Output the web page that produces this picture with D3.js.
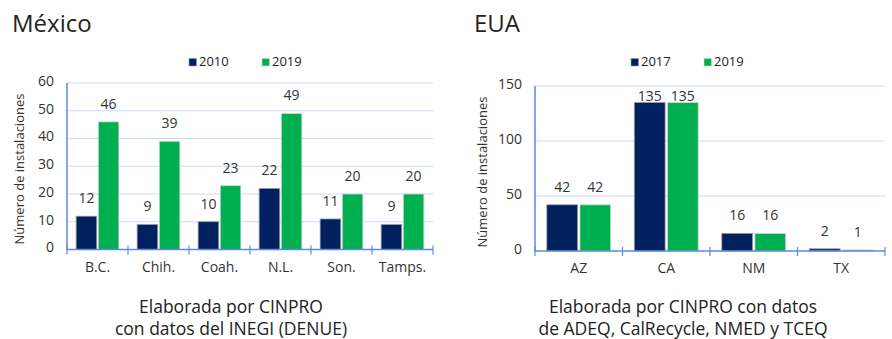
<!DOCTYPE html>
<html>
<head>
<meta charset="utf-8">
<script src="https://cdn.jsdelivr.net/npm/d3@7"></script>
<style>
  html, body { margin: 0; padding: 0; background: #fff; }
  svg { display: block; font-family: "Open Sans", "Noto Sans", sans-serif; }
</style>
</head>
<body>
<svg id="chart" width="892" height="339"></svg>
<script>
// Mexican states: recycling facilities
const mxStates = ["B.C.", "Chih.", "Coah.", "N.L.", "Son.", "Tamps."];
const mxSeries = ["2010", "2019"];
const mx2010 = [12, 9, 10, 22, 11, 9];
const mx2019 = [46, 39, 23, 49, 20, 20];
const mxYTicks = [0, 10, 20, 30, 40, 50, 60];

// US states: recycling facilities
const usStates = ["AZ", "CA", "NM", "TX"];
const usSeries = ["2017", "2019"];
const us2017 = [42, 135, 16, 2];
const us2019 = [42, 135, 16, 1];
const usYTicks = [0, 50, 100, 150];

const seriesColors = ["#002060", "#00b050"];
const seriesStroke = ["#9a9a9a", "#d6d6d6"];

const svg = d3.select("#chart");

function drawPanel(opt) {
  const g = svg.append("g");
  const x0 = d3.scaleBand().domain(opt.categories).range([opt.left, opt.right]).padding(0);
  const bw = x0.bandwidth();
  const x1 = d3.scaleBand().domain([0, 1])
    .range([bw * opt.outer, bw * (1 - opt.outer)]).paddingInner(0.07);
  const y = d3.scaleLinear().domain([0, opt.yMax]).range([opt.bottom, opt.top]);

  // title
  g.append("text").attr("x", opt.titleX).attr("y", 32)
    .attr("font-size", 24).attr("fill", "#222").text(opt.title);

  // gridlines
  g.selectAll("line.grid").data(opt.yTicks.filter(d => d > 0)).join("line")
    .attr("x1", opt.left).attr("x2", opt.right)
    .attr("y1", d => y(d)).attr("y2", d => y(d))
    .attr("stroke", "#c9dcf2").attr("stroke-width", 1.2);

  // y tick labels
  g.selectAll("text.ytick").data(opt.yTicks).join("text")
    .attr("x", opt.left - 13).attr("y", d => y(d) - 2)
    .attr("dy", "0.35em").attr("text-anchor", "end")
    .attr("font-size", 14).attr("fill", "#333").text(d => d);

  // y axis title
  g.append("text")
    .attr("transform", `translate(${opt.yTitleX},${opt.yTitleY}) rotate(-90)`)
    .attr("text-anchor", "middle").attr("dy", "0.35em")
    .attr("font-size", 13).attr("fill", "#333").text("Número de instalaciones");

  // bars
  const rows = opt.categories.map((c, i) => ({ c, vals: [opt.s0[i], opt.s1[i]] }));
  const groups = g.selectAll("g.cat").data(rows).join("g")
    .attr("transform", d => `translate(${x0(d.c)},0)`);
  groups.selectAll("rect").data(d => d.vals.map((v, k) => ({ v, k }))).join("rect")
    .attr("x", d => x1(d.k)).attr("width", x1.bandwidth())
    .attr("y", d => y(d.v)).attr("height", d => y(0) - y(d.v))
    .attr("fill", d => seriesColors[d.k])
    .attr("stroke", d => seriesStroke[d.k]).attr("stroke-width", 0.8);
  groups.selectAll("text").data(d => d.vals.map((v, k) => ({ v, k }))).join("text")
    .attr("x", d => x1(d.k) + x1.bandwidth() / 2)
    .attr("y", d => Math.max(y(d.v) - 18, opt.top + 10))
    .attr("dy", "0.35em").attr("text-anchor", "middle")
    .attr("font-size", 14).attr("fill", "#333").text(d => d.v);

  // vertical axis line
  g.append("line").attr("x1", opt.left).attr("x2", opt.left)
    .attr("y1", opt.top).attr("y2", opt.bottom)
    .attr("stroke", "#5b8bd8").attr("stroke-width", 1.5);

  // category axis
  const xAxis = g.append("g").attr("transform", `translate(0,${opt.bottom})`);
  xAxis.append("line").attr("x1", opt.left).attr("x2", opt.right)
    .attr("stroke", "#5b8bd8").attr("stroke-width", 1.5);
  const bounds = opt.categories.map(c => x0(c)).concat([opt.right]);
  xAxis.selectAll("line.tick").data(bounds).join("line")
    .attr("x1", d => d).attr("x2", d => d).attr("y1", -4).attr("y2", 5)
    .attr("stroke", "#5b8bd8").attr("stroke-width", 1.2);
  xAxis.selectAll("text").data(opt.categories).join("text")
    .attr("x", d => x0(d) + bw / 2).attr("y", opt.labelY - opt.bottom)
    .attr("text-anchor", "middle").attr("font-size", 14).attr("fill", "#333")
    .text(d => d);

  // legend
  opt.series.forEach((s, k) => {
    const lx = opt.legendX[k];
    g.append("rect").attr("x", lx).attr("y", 58.5).attr("width", 7.5).attr("height", 7.5)
      .attr("fill", seriesColors[k]).attr("stroke", seriesStroke[k]).attr("stroke-width", 0.6);
    g.append("text").attr("x", lx + 10).attr("y", 66)
      .attr("font-size", 13).attr("fill", "#222").text(s);
  });

  // source note
  const note = g.append("text").attr("text-anchor", "middle")
    .attr("font-size", 17.5).attr("fill", "#222");
  opt.note.forEach((line, i) => {
    note.append("tspan").attr("x", opt.noteX).attr("y", 313 + i * 22).text(line);
  });
}

drawPanel({
  title: "México", titleX: 12,
  categories: mxStates, series: mxSeries, s0: mx2010, s1: mx2019,
  yTicks: mxYTicks, yMax: 60,
  left: 67, right: 433, top: 83, bottom: 249.5, outer: 0.15,
  yTitleX: 19, yTitleY: 169, labelY: 272,
  legendX: [189, 262],
  noteX: 231, note: ["Elaborada por CINPRO", "con datos del INEGI (DENUE)"]
});

drawPanel({
  title: "EUA", titleX: 474,
  categories: usStates, series: usSeries, s0: us2017, s1: us2019,
  yTicks: usYTicks, yMax: 150,
  left: 535, right: 885, top: 86, bottom: 251, outer: 0.135,
  yTitleX: 482, yTitleY: 172, labelY: 273,
  legendX: [631, 704],
  noteX: 683, note: ["Elaborada por CINPRO con datos", "de ADEQ, CalRecycle, NMED y TCEQ"]
});
</script>
</body>
</html>
